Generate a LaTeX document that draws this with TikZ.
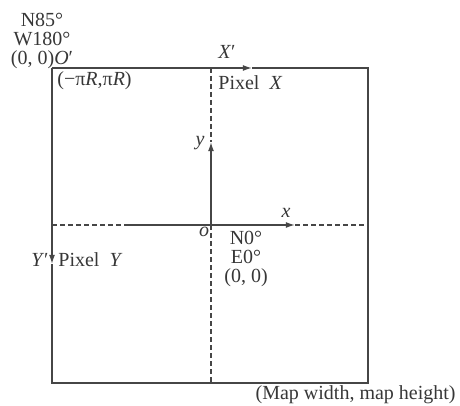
\documentclass[tikz,border=0pt]{standalone}
\usepackage{fontspec}
\setmainfont{Liberation Serif}
\usepackage{xcolor}
\definecolor{InkGray}{RGB}{55,55,55}
\definecolor{LineGray}{RGB}{70,70,70}
\usetikzlibrary{arrows.meta,positioning}

\begin{document}
\begin{tikzpicture}[
  x=0.5pt, y=-0.5pt,
  lbl/.style={font=\fontsize{10}{9.4}\selectfont, text=InkGray,
              inner sep=0pt, align=center},
  frame/.style={line width=0.8pt, draw=LineGray},
  guide/.style={line width=0.7pt, draw=LineGray, dash pattern=on 2.5pt off 1.5pt},
  arr/.style={-{Latex[length=4.6pt, width=3pt]}, line width=0.7pt, draw=LineGray}
]
  \useasboundingbox (0,0) rectangle (460,406);

  % corners of the map and the centre
  \coordinate (tl) at (52,68);
  \coordinate (tr) at (368,68);
  \coordinate (bl) at (52,383);
  \coordinate (br) at (368,383);
  \coordinate (o) at (211,225);

  % ends of the pixel axes and of the x/y axes
  \coordinate (xp) at (252,68);
  \coordinate (yp) at (52,264);
  \coordinate (xl) at (52,225);
  \coordinate (xs) at (125,225);
  \coordinate (xa) at (295,225);
  \coordinate (xr) at (368,225);
  \coordinate (yt) at (211,68);
  \coordinate (ya) at (211,142);
  \coordinate (yb) at (211,383);

  % frame with the pixel axes X' and Y'
  \draw[arr] (tl) -- (xp);
  \draw[frame] (xp) -- (tr) -- (br) -- (bl) -- (yp);
  \draw[arr] (tl) -- (yp);

  % x and y axes through o
  \draw[guide] (xl) -- (xs);
  \draw[arr] (xs) -- (xa);
  \draw[guide] (xa) -- (xr);
  \draw[guide] (yt) -- (ya);
  \draw[arr] (o) -- (ya);
  \draw[guide] (o) -- (yb);

  % labels
  \node[lbl] (orig) at (42,41) {N85°\\W180°\\(0, 0)\textit{O}′};
  \node[lbl, anchor=west] (corner) at (57,81) {(−π\textit{R},π\textit{R})};
  \node[lbl] (xplbl) at (227,52) {\textit{X}′};
  \node[lbl, anchor=west] (pixx) at (218,83) {Pixel\enspace\textit{X}};
  \node[lbl, anchor=east] (yplbl) at (49,260) {\textit{Y}′};
  \node[lbl, anchor=west] (pixy) at (58,260) {Pixel\enspace\textit{Y}};
  \node[lbl] (ylbl) at (200,143) {\textit{y}};
  \node[lbl] (xlbl) at (286,213) {\textit{x}};
  \node[lbl] (olbl) at (204,232) {\textit{o}};
  \node[lbl] (centre) at (246,259) {N0°\\E0°\\(0, 0)};
  \node[lbl, anchor=east] (size) at (456,395) {(Map width, map height)};
\end{tikzpicture}
\end{document}
